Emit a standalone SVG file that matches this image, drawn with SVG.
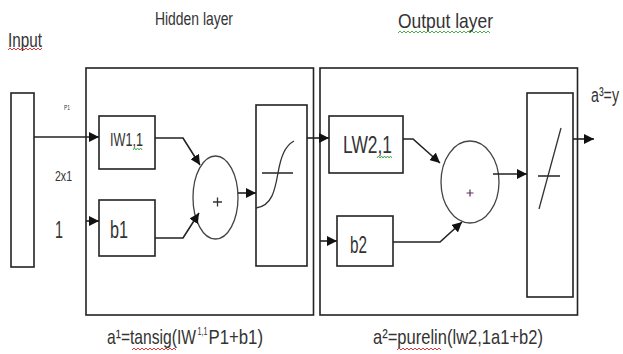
<svg xmlns="http://www.w3.org/2000/svg" width="623" height="354" viewBox="0 0 623 354">
<style>
  .box{fill:none;stroke:#222;stroke-width:1.6}
  .sum{fill:none;stroke:#444;stroke-width:1.3}
  .wire{fill:none;stroke:#222;stroke-width:1.6}
  .t{font-family:"Liberation Sans",Arial,sans-serif;fill:#333}
  .sq{fill:none;stroke-width:0.9}
</style>
<defs>
  <marker id="ah" markerUnits="userSpaceOnUse" markerWidth="10" markerHeight="10" refX="10" refY="5" orient="auto">
    <path d="M0,0 L10,5 L0,10 z" fill="#111"/>
  </marker>
</defs>
<rect width="623" height="354" fill="#fff"/>

<!-- titles -->
<text class="t" x="155" y="25" font-size="19" textLength="78" lengthAdjust="spacingAndGlyphs">Hidden layer</text>
<text class="t" x="398" y="28" font-size="21" textLength="95" lengthAdjust="spacingAndGlyphs">Output layer</text>
<path class="sq" stroke="#3a3" d="M398,33 l2,-2 l2,2 l2,-2 l2,2 l2,-2 l2,2 l2,-2 l2,2 l2,-2 l2,2 l2,-2 l2,2 l2,-2 l2,2 l2,-2 l2,2 l2,-2 l2,2 l2,-2 l2,2 l2,-2 l2,2 l2,-2 l2,2 l2,-2 l2,2 l2,-2 l2,2 l2,-2 l2,2 l2,-2 l2,2 l2,-2 l2,2 l2,-2 l2,2 l2,-2 l2,2 l2,-2 l2,2 l2,-2 l2,2 l2,-2 l2,2 l2,-2 l2,2"/>
<text class="t" x="8" y="47" font-size="20" textLength="34" lengthAdjust="spacingAndGlyphs">Input</text>
<path class="sq" stroke="#d22" d="M8,50 l2,-2 l2,2 l2,-2 l2,2 l2,-2 l2,2 l2,-2 l2,2 l2,-2 l2,2 l2,-2 l2,2 l2,-2 l2,2 l2,-2 l2,2 l2,-2"/>
<text class="t" x="591" y="102" font-size="20" textLength="28" lengthAdjust="spacingAndGlyphs">a³=y</text>

<!-- input -->
<g id="input">
  <rect class="box" x="11" y="93" width="23" height="174"/>
  <text class="t" x="64" y="110" font-size="7" textLength="6" lengthAdjust="spacingAndGlyphs">P1</text>
  <text class="t" x="55" y="181" font-size="15" textLength="17" lengthAdjust="spacingAndGlyphs">2x1</text>
  <text class="t" x="55" y="238" font-size="24" textLength="8" lengthAdjust="spacingAndGlyphs">1</text>
</g>

<!-- hidden layer -->
<g id="hidden-layer">
  <rect class="box" x="86" y="68" width="227.5" height="247"/>
</g>
<g id="iw11">
  <rect class="box" x="99" y="116" width="56" height="53"/>
  <text class="t" x="110" y="146" font-size="18" textLength="33" lengthAdjust="spacingAndGlyphs">IW1,1</text>
  <path class="sq" stroke="#3a3" d="M133,150 l1.5,-2 l1.5,2 l1.5,-2 l1.5,2 l1.5,-2 l1.5,2"/>
</g>
<g id="b1">
  <rect class="box" x="99" y="200" width="56" height="56"/>
  <text class="t" x="110" y="238" font-size="23" textLength="18" lengthAdjust="spacingAndGlyphs">b1</text>
</g>
<g id="sum1">
  <ellipse class="sum" cx="215.5" cy="197.5" rx="22.5" ry="41.5"/>
  <path d="M213,202 h9 M217.5,197.5 v9" stroke="#333" stroke-width="1.3"/>
</g>
<g id="tansig">
  <rect class="box" x="256" y="105" width="51" height="161"/>
  <path d="M262,173 H293" stroke="#222" stroke-width="1.5"/>
  <path d="M256,208 C272,206 275,190 278,173 C281,156 285,146 294,141" fill="none" stroke="#333" stroke-width="1.3"/>
</g>

<!-- output layer -->
<g id="output-layer">
  <rect class="box" x="320" y="68" width="257.5" height="247"/>
</g>
<g id="lw21">
  <rect class="box" x="329" y="116" width="74" height="57"/>
  <text class="t" x="343" y="153" font-size="24" textLength="49" lengthAdjust="spacingAndGlyphs">LW2,1</text>
  <path class="sq" stroke="#3a3" d="M377,158 l1.5,-2 l1.5,2 l1.5,-2 l1.5,2 l1.5,-2 l1.5,2 l1.5,-2 l1.5,2 l1.5,-2 l1.5,2"/>
</g>
<g id="b2">
  <rect class="box" x="337" y="216" width="56" height="50"/>
  <text class="t" x="350" y="253" font-size="24" textLength="17" lengthAdjust="spacingAndGlyphs">b2</text>
</g>
<g id="sum2">
  <ellipse class="sum" cx="470" cy="182" rx="29" ry="41"/>
  <path d="M466.5,193 h7 M470,189.5 v7" stroke="#603060" stroke-width="1.2"/>
</g>
<g id="purelin">
  <rect class="box" x="527" y="93" width="46" height="204"/>
  <path d="M538,176 H560" stroke="#222" stroke-width="1.5"/>
  <path d="M561,128 L539,209" stroke="#333" stroke-width="1.3"/>
</g>

<!-- connectors -->
<g id="connectors">
  <path class="wire" d="M34,137 H99" marker-end="url(#ah)"/>
  <path class="wire" d="M86,221 H99" marker-end="url(#ah)"/>
  <path class="wire" d="M155,138 H183 L200,165" marker-end="url(#ah)"/>
  <path class="wire" d="M155,238 H183 L199,213" marker-end="url(#ah)"/>
  <path class="wire" d="M238,193 H256" marker-end="url(#ah)"/>
  <path class="wire" d="M307,138 H329" marker-end="url(#ah)"/>
  <path class="wire" d="M320,241 H337" marker-end="url(#ah)"/>
  <path class="wire" d="M403,139 H413 L440,163" marker-end="url(#ah)"/>
  <path class="wire" d="M393,242 H440 L462,222" marker-end="url(#ah)"/>
  <path class="wire" d="M493,174 H527" marker-end="url(#ah)"/>
  <path class="wire" d="M573,139 H594" marker-end="url(#ah)"/>
</g>

<!-- formulas -->
<text class="t" x="107" y="344" font-size="21" textLength="89" lengthAdjust="spacingAndGlyphs">a¹=tansig(IW</text>
<text class="t" x="197.5" y="335" font-size="10" textLength="10" lengthAdjust="spacingAndGlyphs">1,1</text>
<text class="t" x="208.5" y="344" font-size="21" textLength="54.5" lengthAdjust="spacingAndGlyphs">P1+b1)</text>
<path class="sq" stroke="#d22" d="M132,350 l2,-2 l2,2 l2,-2 l2,2 l2,-2 l2,2 l2,-2 l2,2 l2,-2 l2,2 l2,-2 l2,2 l2,-2 l2,2 l2,-2 l2,2 l2,-2 l2,2 l2,-2 l2,2 l2,-2 l2,2"/>
<text class="t" x="373" y="344" font-size="21" textLength="170" lengthAdjust="spacingAndGlyphs">a²=purelin(lw2,1a1+b2)</text>
<path class="sq" stroke="#d22" d="M397,350 l2,-2 l2,2 l2,-2 l2,2 l2,-2 l2,2 l2,-2 l2,2 l2,-2 l2,2 l2,-2 l2,2 l2,-2 l2,2 l2,-2 l2,2 l2,-2 l2,2 l2,-2 l2,2 l2,-2 l2,2"/>
</svg>
